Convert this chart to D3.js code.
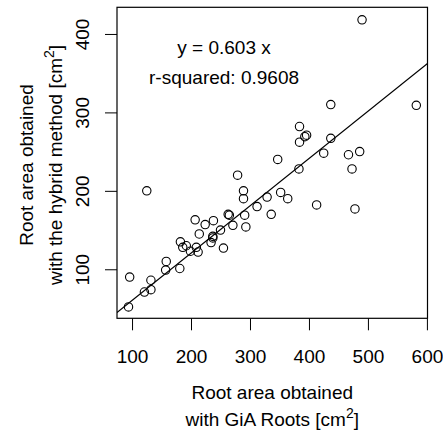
<html>
<head>
	<title>root area</title>
	<style>
		body {
			margin: 0;
			padding: 0;
			background: #fff;
		}
		svg text {
			font-family: "Liberation Sans", Arial, sans-serif;
			font-size: 19px;
			fill: #000;
		}
		.axis .domain {
			display: none;
		}
		.axis line {
			stroke: #000;
		}
	</style>
</head>
<body>

	<svg width="443" height="439"></svg>

	<script src="https://d3js.org/d3.v7.min.js"></script>
	<script>

		// valori: GiA Roots (x) e metodo ibrido (y), cm2
		var giaRoots = [490, 437, 582, 384, 396, 393, 437, 384, 425, 467,
			486, 347, 473, 383, 279, 125, 289, 289, 329, 352,
			364, 312, 413, 478, 336, 263, 265, 291, 207, 238,
			224, 271, 293, 214, 250, 237, 237, 234, 182, 186,
			192, 209, 199, 212, 255, 158, 157, 181, 96, 132,
			121, 132, 94];
		var hybrid = [418, 310, 309, 282, 271, 269, 267, 262, 248, 246,
			250, 240, 228, 228, 220, 200, 200, 190, 192, 198,
			190, 180, 182, 177, 170, 170, 169, 169, 163, 162,
			157, 156, 154, 145, 150, 142, 140, 134, 135, 128,
			130, 128, 123, 122, 127, 110, 99, 101, 90, 86,
			71, 74, 52];

		var xTicks = [100, 200, 300, 400, 500, 600];
		var yTicks = [100, 200, 300, 400];

		var slope = 0.603;
		var rSquared = "0.9608";

		var svg = d3.select("svg");

		// bordi del riquadro (niente "top": e' window.top)
		var plotLeft = 117, plotRight = 427.5, plotTop = 7.3, plotBottom = 318.3;

		var x = d3.scaleLinear().domain([74.5, 601]).range([plotLeft, plotRight]);
		var y = d3.scaleLinear().domain([37.5, 434]).range([plotBottom, plotTop]);

		var data = giaRoots.map(function(d, i) {
			return {x: d, y: hybrid[i]};
		});

		svg.append("clipPath")
			.attr("id", "plotClip")
			.append("rect")
			.attr("x", plotLeft)
			.attr("y", plotTop)
			.attr("width", plotRight - plotLeft)
			.attr("height", plotBottom - plotTop);

		// asse x
		var xAxis = svg.append("g")
			.attr("class", "axis")
			.attr("transform", "translate(0," + plotBottom + ")")
			.call(d3.axisBottom(x).tickValues(xTicks).tickSize(12).tickSizeOuter(0));

		xAxis.selectAll("text")
			.attr("y", 45)
			.attr("dy", 0);

		// asse y, etichette ruotate come in R
		var yAxis = svg.append("g")
			.attr("class", "axis")
			.attr("transform", "translate(" + plotLeft + ",0)")
			.call(d3.axisLeft(y).tickValues(yTicks).tickSize(12).tickSizeOuter(0));

		yAxis.selectAll("text")
			.attr("x", 0)
			.attr("dy", 0)
			.attr("text-anchor", "middle")
			.attr("transform", "translate(-28,0) rotate(-90)");

		// retta di regressione
		var xd = x.domain();
		svg.append("line")
			.attr("clip-path", "url(#plotClip)")
			.attr("x1", x(xd[0]))
			.attr("y1", y(slope * xd[0]))
			.attr("x2", x(xd[1]))
			.attr("y2", y(slope * xd[1]))
			.attr("stroke", "#000")
			.attr("stroke-width", 1.1);

		svg.append("g")
			.selectAll("circle")
			.data(data)
			.enter()
			.append("circle")
			.attr("cx", function(d) { return x(d.x); })
			.attr("cy", function(d) { return y(d.y); })
			.attr("r", 4.2)
			.attr("fill", "none")
			.attr("stroke", "#000")
			.attr("stroke-width", 1.1);

		// cornice
		svg.append("rect")
			.attr("x", plotLeft)
			.attr("y", plotTop)
			.attr("width", plotRight - plotLeft)
			.attr("height", plotBottom - plotTop)
			.attr("fill", "none")
			.attr("stroke", "#000")
			.attr("stroke-width", 1.2);

		// annotazioni
		svg.append("text")
			.attr("x", x(256))
			.attr("y", y(383.5))
			.attr("dy", "0.35em")
			.attr("text-anchor", "middle")
			.text("y = " + slope + " x");

		svg.append("text")
			.attr("x", x(256))
			.attr("y", y(345))
			.attr("dy", "0.35em")
			.attr("text-anchor", "middle")
			.text("r-squared: " + rSquared);

		// titoli degli assi
		var cx = (plotLeft + plotRight) / 2;
		svg.append("text")
			.attr("x", cx)
			.attr("y", 398.5)
			.attr("text-anchor", "middle")
			.text("Root area obtained");

		var xt2 = svg.append("text")
			.attr("x", cx)
			.attr("y", 425.5)
			.attr("text-anchor", "middle");
		xt2.append("tspan").text("with GiA Roots [cm");
		xt2.append("tspan").attr("dy", -8).style("font-size", "14px").text("2");
		xt2.append("tspan").attr("dy", 8).text("]");

		var cy = 165;
		svg.append("text")
			.attr("text-anchor", "middle")
			.attr("transform", "translate(33," + cy + ") rotate(-90)")
			.text("Root area obtained");

		var yt2 = svg.append("text")
			.attr("text-anchor", "middle")
			.attr("transform", "translate(61.5," + cy + ") rotate(-90)");
		yt2.append("tspan").text("with the hybrid method [cm");
		yt2.append("tspan").attr("dy", -8).style("font-size", "14px").text("2");
		yt2.append("tspan").attr("dy", 8).text("]");

	</script>
</body>
</html>
